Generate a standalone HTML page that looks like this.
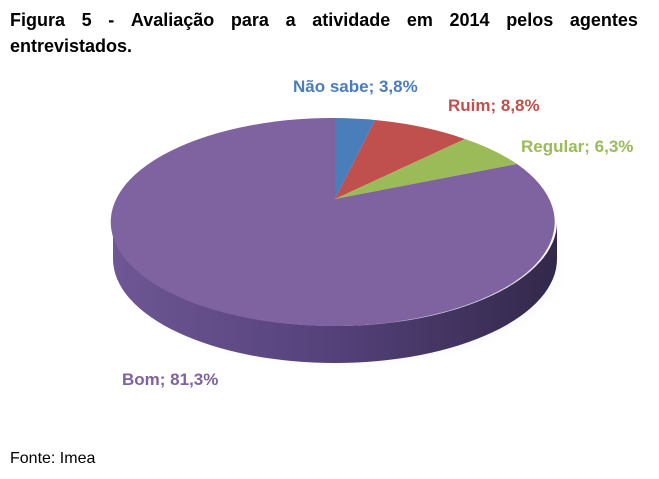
<!DOCTYPE html>
<html><head><meta charset="utf-8"><style>
body{margin:0;width:659px;height:479px;background:#fff;font-family:"Liberation Sans",sans-serif;position:relative;overflow:hidden}
.t{position:absolute;left:10px;width:628px;font-weight:bold;font-size:18px;color:#000;white-space:nowrap}
.l{position:absolute;font-weight:bold;font-size:17px;white-space:nowrap}
</style></head><body>
<div class="t" style="top:10px;display:flex;justify-content:space-between"><span>Figura</span><span>5</span><span>-</span><span>Avaliação</span><span>para</span><span>a</span><span>atividade</span><span>em</span><span>2014</span><span>pelos</span><span>agentes</span></div>
<div class="t" style="top:36px">entrevistados.</div>
<svg width="659" height="479" style="position:absolute;left:0;top:0">
<defs>
<linearGradient id="side" x1="0" x2="1" y1="0" y2="0">
<stop offset="0" stop-color="#6e5794"/><stop offset="0.5" stop-color="#54417a"/><stop offset="1" stop-color="#33284a"/></linearGradient>
<radialGradient id="sh" cx="0.5" cy="0.5" r="0.5"><stop offset="0.8" stop-color="#bbb" stop-opacity="0.5"/><stop offset="1" stop-color="#fff" stop-opacity="0"/></radialGradient>
</defs>
<ellipse cx="340" cy="265" rx="232" ry="106" fill="url(#sh)"/>
<path d="M113,222 L113,259 A222,104 0 0 0 557,259 L557,222 A222,104 0 0 1 113,222 Z" fill="url(#side)"/>
<path d="M335,199 L335,118 A222,104 0 0 1 375,120 Z" fill="#4a7ebb"/>
<path d="M335,199 L375,120 A222,104 0 0 1 465,139 Z" fill="#c0504d"/>
<path d="M335,199 L465,139 A222,104 0 0 1 517,164 Z" fill="#9bbb59"/>
<path d="M335,199 L517,164 A222,104 0 1 1 335,118 Z" fill="#7f62a0"/>
</svg>
<div class="l" style="left:293px;top:77px;color:#4a7ebb">Não sabe; 3,8%</div>
<div class="l" style="left:448px;top:96px;color:#c0504d">Ruim; 8,8%</div>
<div class="l" style="left:521px;top:137px;color:#9bbb59">Regular; 6,3%</div>
<div class="l" style="left:122px;top:370px;color:#7f62a0">Bom; 81,3%</div>
<div style="position:absolute;left:10px;top:450px;font-size:16px">Fonte: Imea</div>
</body></html>
